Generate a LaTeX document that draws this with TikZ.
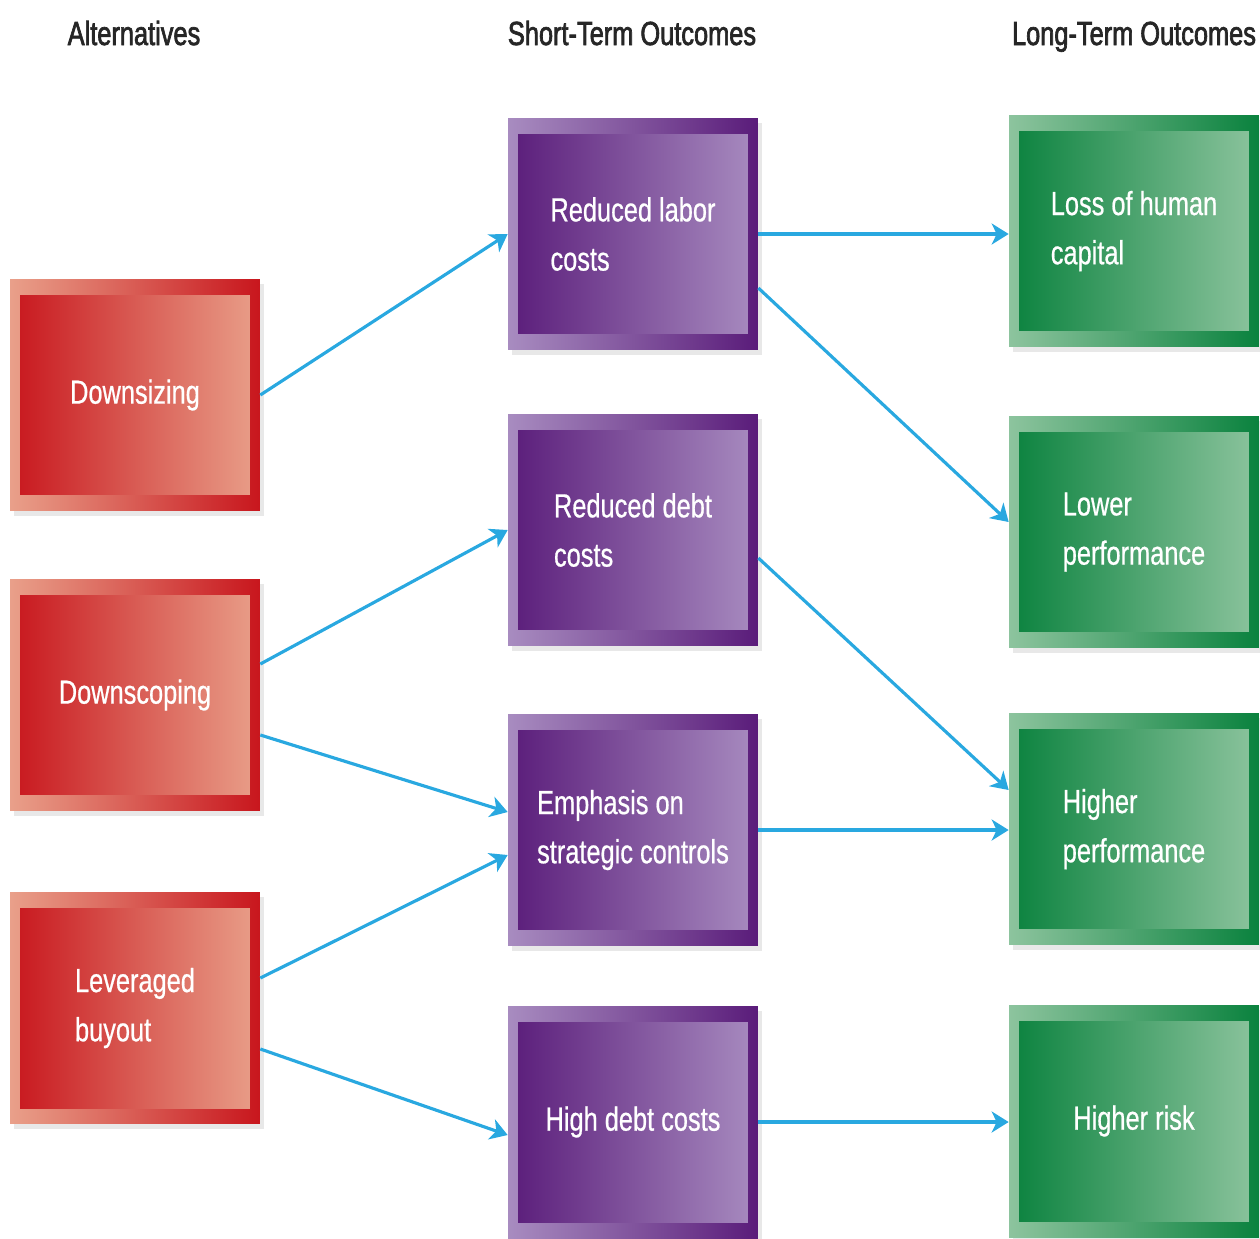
\documentclass[tikz,border=0pt]{standalone}
\usepackage{fontspec}
\setmainfont{Liberation Sans}
\newfontfamily\narrowfont[FakeStretch=0.76,FakeBold=0.6]{Liberation Sans}
\newfontfamily\headfont[FakeStretch=0.76,FakeBold=2]{Liberation Sans}
\usetikzlibrary{arrows.meta,shadows}

\definecolor{altdark}{HTML}{C8161D}
\definecolor{altlight}{HTML}{E9A08A}
\definecolor{shortdark}{HTML}{5A1C7A}
\definecolor{shortlight}{HTML}{A88CC0}
\definecolor{longdark}{HTML}{0A823E}
\definecolor{longlight}{HTML}{8DC49E}
\definecolor{linkblue}{HTML}{29A8E0}

\tikzset{
  % framed box: light-to-dark frame, dark-to-light face
  outcome/.style 2 args={rectangle, minimum width=5cm, minimum height=4.64cm,
    inner sep=0pt, align=left, text=white,
    font=\narrowfont\fontsize{19}{28}\selectfont,
    left color=#2, right color=#1,
    drop shadow={opacity=0.18, shadow xshift=0.08cm, shadow yshift=-0.1cm},
    path picture={\shade[left color=#1, right color=#2]
      ([shift={(0.2cm,-0.32cm)}]path picture bounding box.north west) rectangle
      ([shift={(-0.2cm,0.32cm)}]path picture bounding box.south east);}},
  altbox/.style={outcome={altdark}{altlight}},
  shortbox/.style={outcome={shortdark}{shortlight}},
  longbox/.style={outcome={longdark}{longlight}},
  head/.style={anchor=base, font=\headfont\fontsize{19}{28}\selectfont, text=black!85},
  link/.style={draw=linkblue, line width=1.8pt,
    -{Stealth[length=0.34cm, width=0.42cm, inset=0.1cm]}}
}

\begin{document}
\begin{tikzpicture}[x=0.02cm, y=-0.02cm]
  \useasboundingbox (0,0) rectangle (1260,1238);

  \node[head] (hAlt)   at (134,45)  {Alternatives};
  \node[head] (hShort) at (632,45)  {Short-Term Outcomes};
  \node[head] (hLong)  at (1134,45) {Long-Term Outcomes};

  % alternatives
  \node[altbox] (dsz) at (135,395)  {Downsizing};
  \node[altbox] (dsc) at (135,695)  {Downscoping};
  \node[altbox] (lbo) at (135,1008) {Leveraged\\buyout};

  % short-term outcomes
  \node[shortbox] (rlc) at (633,234)  {Reduced labor\\costs};
  \node[shortbox] (rdc) at (633,530)  {Reduced debt\\costs};
  \node[shortbox] (esc) at (633,830)  {Emphasis on\\strategic controls};
  \node[shortbox] (hdc) at (633,1122) {High debt costs};

  % long-term outcomes
  \node[longbox] (lhc) at (1134,231)  {Loss of human\\capital};
  \node[longbox] (lpf) at (1134,532)  {Lower\\performance};
  \node[longbox] (hpf) at (1134,829)  {Higher\\performance};
  \node[longbox] (hrk) at (1134,1121) {Higher risk};

  \draw[link] (dsz.east) -- (rlc.west);
  \draw[link] ([yshift=0.62cm]dsc.east) -- (rdc.west);
  \draw[link] ([yshift=-0.8cm]dsc.east) -- ([yshift=0.36cm]esc.west);
  \draw[link] ([yshift=0.6cm]lbo.east) -- ([yshift=-0.5cm]esc.west);
  \draw[link] ([yshift=-0.82cm]lbo.east) -- ([yshift=-0.26cm]hdc.west);

  \draw[link] (rlc.east) -- (rlc.east -| lhc.west);
  \draw[link] ([yshift=-1.08cm]rlc.east) -- ([yshift=0.2cm]lpf.west);
  \draw[link] ([yshift=-0.56cm]rdc.east) -- ([yshift=0.78cm]hpf.west);
  \draw[link] (esc.east) -- (esc.east -| hpf.west);
  \draw[link] (hdc.east) -- (hdc.east -| hrk.west);
\end{tikzpicture}
\end{document}
